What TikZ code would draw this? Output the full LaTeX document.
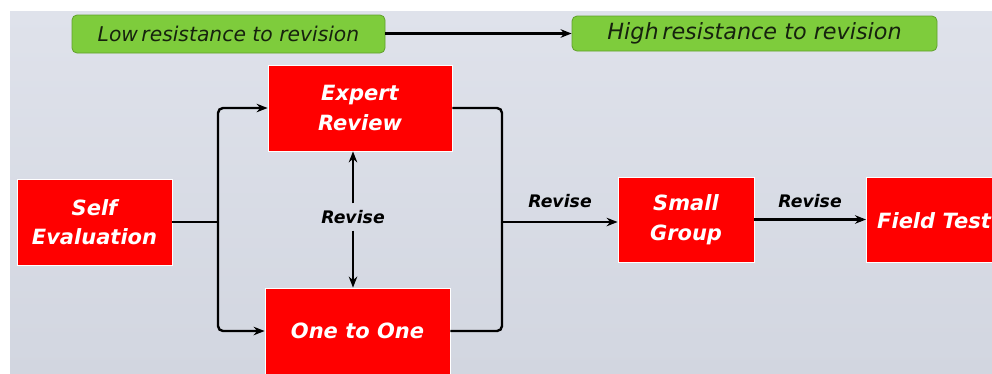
\documentclass[tikz,border=0pt]{standalone}
\usepackage{fontspec}
\setmainfont{DejaVu Sans}
\usetikzlibrary{arrows.meta}
\definecolor{bgtop}{RGB}{223,226,235}
\definecolor{bgbot}{RGB}{210,214,224}
\definecolor{boxred}{RGB}{255,0,0}
\definecolor{gfill}{RGB}{126,204,60}
\definecolor{gline}{RGB}{96,160,44}
\definecolor{gtext}{RGB}{22,34,14}
\tikzset{
  redfont/.style={font=\fontsize{21}{29.5}\selectfont\bfseries\itshape},
  redbox/.style={rectangle, fill=boxred, draw=white, line width=0.8pt, text=white,
    redfont, align=center, inner sep=0pt},
  greenbox/.style={rectangle, rounded corners=5pt, fill=gfill, draw=gline, line width=0.8pt,
    text=gtext, font=\fontsize{20.3}{22}\selectfont\itshape, inner sep=0pt},
  conn/.style={line width=2.4pt, black},
  arr/.style={conn, -{Stealth[length=11pt,width=8.5pt]}},
  revlab/.style={font=\fontsize{17.3}{20}\selectfont\bfseries\itshape, text=black, inner sep=0pt}
}
\begin{document}
\begin{tikzpicture}[x=1pt,y=-1pt]
\useasboundingbox (0,0) rectangle (992,373);
\clip (0,0) rectangle (992,373);
\fill[white] (0,0) rectangle (992,373);
\shade[top color=bgtop, bottom color=bgbot] (10,11) rectangle (992,373);

% top row
\node[greenbox, minimum width=313pt, minimum height=38pt] (g1) at (228.5,34) {Low\,resistance to revision};
\node[greenbox, minimum width=365pt, minimum height=35pt, font=\fontsize{22.3}{23}\selectfont\itshape] (g2) at (754.5,33.5) {High\,resistance to revision};
\draw[arr] (g1.east |- 0,33.5) -- (g2.west);

% red boxes
\node[redbox, minimum width=184pt, minimum height=86pt] (expert) at (360,108) {Expert\\Review};
\node[redbox, minimum width=155pt, minimum height=86pt] (self) at (94.5,222) {Self\\Evaluation};
\node[redbox, minimum width=185pt, minimum height=86pt] (one) at (357.5,331) {};
\node[text=white, redfont] (onelab) at (357.5,331) {One to One};
\node[redbox, minimum width=136pt, minimum height=85pt] (small) at (686,219.5) {Small\\Group};
\node[redbox, minimum width=140pt, minimum height=85pt, anchor=west] (field) at (866,219.5) {};
\node[text=white, redfont, anchor=west, inner sep=0pt] (fieldlab) at (877,221) {Field Test};

% left fan-out
\coordinate (j1) at (218,222);
\draw[conn] (self.east |- j1) -- (j1);
\draw[arr, rounded corners=5pt] (j1) |- (expert.west);
\draw[arr, rounded corners=5pt] (j1) |- (one.west);

% vertical revise
\node[revlab, minimum height=27pt] (rv) at (353,217) {Revise};
\draw[arr] (rv.north) -- (rv.north |- expert.south);
\draw[arr] (rv.south) -- (rv.south |- one.north);

% right fan-in
\coordinate (j2) at (502,222);
\draw[conn, rounded corners=5pt] (expert.east) -| (j2);
\draw[conn, rounded corners=5pt] (one.east) -| (j2);
\draw[arr] (j2) -- (small.west |- j2);
\node[revlab] (r1) at (560,201) {Revise};

\draw[arr] (small.east) -- (field.west);
\node[revlab] (r2) at (810,201) {Revise};
\end{tikzpicture}
\end{document}
